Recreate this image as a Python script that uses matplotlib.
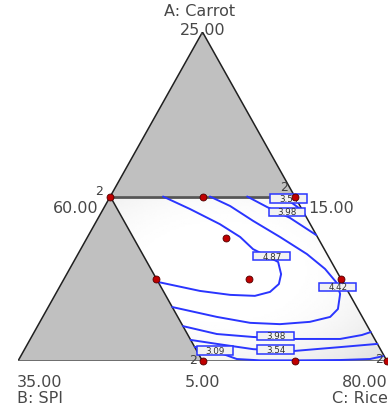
import numpy as np
import matplotlib.pyplot as plt
from matplotlib.patches import Polygon, Rectangle

# design points, actual % of each component (A: 5-25, B: 15-35, C: 60-80)
carrot = [15, 15, 15, 12.5, 10, 10, 10, 5, 5, 5]
spi = [25, 20, 15, 20, 25, 20, 15, 25, 20, 15]
rice = [60, 65, 70, 67.5, 65, 70, 75, 70, 75, 80]
replicated = [0, 2, 7, 9]   # runs done twice, marked "2"

# contour lines, in ternary plane coords (x along base, y = A fraction)
contour_levels = ['4.87', '4.42', '3.98', '3.54', '3.98', '3.54', '3.09']
contour_x = [
    [0.393, 0.466, 0.547, 0.602, 0.637, 0.669, 0.705, 0.713, 0.707, 0.683, 0.642, 0.575, 0.493, 0.380],
    [0.520, 0.575, 0.637, 0.710, 0.783, 0.832, 0.862, 0.873, 0.867, 0.846, 0.791, 0.710, 0.629, 0.539, 0.418],
    [0.621, 0.675, 0.737, 0.808],
    [0.710, 0.743, 0.772],
    [0.447, 0.539, 0.637, 0.743, 0.873, 0.932, 0.956],
    [0.468, 0.539, 0.637, 0.743, 0.881, 0.974],
    [0.479, 0.534, 0.593, 0.656, 0.764, 0.873, 0.954, 0.990],
]
contour_y = [
    [0.500, 0.462, 0.416, 0.377, 0.340, 0.322, 0.301, 0.264, 0.234, 0.210, 0.198, 0.201, 0.213, 0.240],
    [0.500, 0.471, 0.426, 0.377, 0.325, 0.280, 0.240, 0.204, 0.158, 0.134, 0.119, 0.112, 0.116, 0.134, 0.164],
    [0.500, 0.468, 0.435, 0.383],
    [0.500, 0.480, 0.456],
    [0.106, 0.082, 0.073, 0.067, 0.067, 0.079, 0.088],
    [0.064, 0.052, 0.036, 0.030, 0.043, 0.052],
    [0.043, 0.030, 0.006, 0.002, 0.002, 0.003, 0.006, 0.015],
]
label_x = [0.688, 0.867, 0.729, 0.734, 0.699, 0.699, 0.534]
label_y = [0.319, 0.225, 0.453, 0.494, 0.076, 0.036, 0.033]


def to_xy(a, b, c):
    # barycentric (A top, B left, C right) -> plane
    return c + a / 2.0, a


def pseudo(A, B, C):
    return (np.asarray(A) - 5) / 20.0, (np.asarray(B) - 15) / 20.0, (np.asarray(C) - 60) / 20.0


fig = plt.figure(figsize=(3.88, 4.10), dpi=100)
ax = fig.add_axes([18 / 388, 48 / 410, 369 / 388, 329 / 410])
ax.set_xlim(0, 1)
ax.set_ylim(0, 1)
ax.axis('off')

grey = '#c0c0c0'
txt = '#484848'

# whole simplex in grey, feasible region shaded white -> light grey at its edges
tri = [to_xy(1, 0, 0), to_xy(0, 1, 0), to_xy(0, 0, 1)]
ax.add_patch(Polygon(tri, closed=True, fc=grey, ec='none', zorder=1))
region = [to_xy(0.5, 0.5, 0), to_xy(0.5, 0, 0.5), to_xy(0, 0, 1), to_xy(0, 0.5, 0.5)]
clip = Polygon(region, closed=True, fc='white', ec='none', zorder=2)
ax.add_patch(clip)
gx, gy = np.meshgrid(np.linspace(0, 1, 200), np.linspace(0, 1, 200))
d = np.hypot((gx - 0.55) / 0.45, (gy - 0.27) / 0.30)
shade = 1 - 0.13 * np.clip(d - 0.35, 0, None) ** 2
im = ax.imshow(shade, extent=(0, 1, 0, 1), origin='lower', cmap='gray', vmin=0, vmax=1,
               aspect='auto', zorder=2.5, interpolation='bilinear')
im.set_clip_path(clip)

# edges
ax.plot([tri[1][0], tri[0][0], tri[2][0]], [tri[1][1], tri[0][1], tri[2][1]],
        color='#202020', lw=1.1, zorder=3)
ax.plot([region[0][0], region[3][0]], [region[0][1], region[3][1]], color='#202020', lw=1.1, zorder=3)
ax.plot([region[0][0], region[1][0]], [region[0][1], region[1][1]], color='#555555', lw=2.0, zorder=3)
ax.plot([tri[1][0], tri[2][0]], [tri[1][1], tri[2][1]], color='#666666', lw=2.0, zorder=3)

# contours
for xs, ys in zip(contour_x, contour_y):
    ax.plot(xs, ys, color='#2a35ff', lw=1.4, zorder=4, solid_capstyle='round')

# contour labels in little boxes
bw, bh = 0.100, 0.027
for lev, lx, ly in zip(contour_levels, label_x, label_y):
    ax.add_patch(Rectangle((lx - bw / 2, ly - bh / 2), bw, bh, fc='#f2f2f2', ec='#2a35ff',
                           lw=1.1, zorder=6))
    ax.text(lx, ly, lev, fontsize=6.3, color='#303030', ha='center', va='center', zorder=7)

# design points
a, b, c = pseudo(carrot, spi, rice)
px, py = to_xy(a, b, c)
ax.plot(px, py, 'o', color='#c00000', mec='#500000', mew=0.6, ms=5, zorder=8, clip_on=False)
rep_offsets = [(-5.5, 4.5), (-5, 7), (-3.6, 1), (-3, 1.5)]
for i, off in zip(replicated, rep_offsets):
    ax.annotate('2', (px[i], py[i]), xytext=off, textcoords='offset points',
                ha='right', va='center', fontsize=9, color='#404040', zorder=9)

# vertex / axis labels
kw = dict(va='center', fontsize=11.5, color=txt, clip_on=False)
ax.text(0.493, 1.064, 'A: Carrot', ha='center', **kw)
ax.text(0.501, 1.008, '25.00', ha='center', **kw)
ax.text(0.217, 0.466, '60.00', ha='right', **kw)
ax.text(0.786, 0.466, '15.00', ha='left', **kw)
ax.text(-0.003, -0.061, '35.00', ha='left', **kw)
ax.text(0.501, -0.061, '5.00', ha='center', **kw)
ax.text(1.003, -0.061, '80.00', ha='right', **kw)
ax.text(-0.003, -0.112, 'B: SPI', ha='left', **kw)
ax.text(1.003, -0.112, 'C: Rice', ha='right', **kw)

fig.savefig('out.png', dpi=100, facecolor='white')
